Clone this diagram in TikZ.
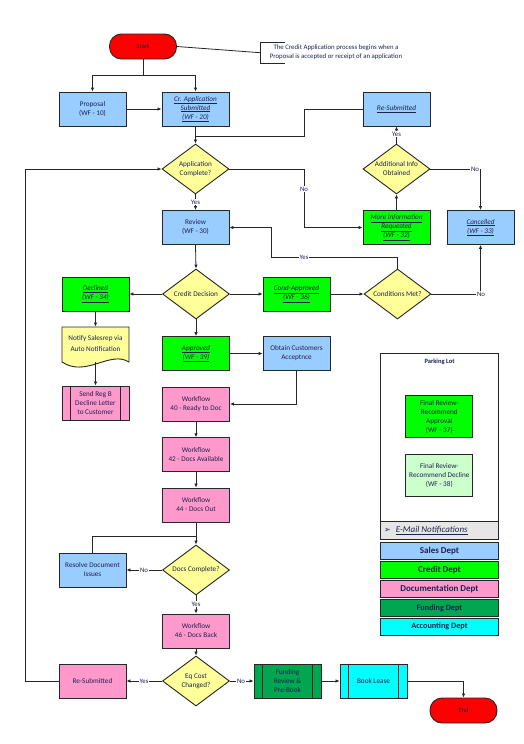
\documentclass[tikz,border=0pt]{standalone}
\usepackage{fontspec}
\setmainfont{Carlito}
\newfontfamily\symfont{DejaVu Sans}
\usetikzlibrary{shapes.geometric,arrows.meta}
\definecolor{sblue}{HTML}{99CCFF}
\definecolor{sgreen}{HTML}{00FF00}
\definecolor{spink}{HTML}{FF99CC}
\definecolor{syellow}{HTML}{FFFF99}
\definecolor{sred}{HTML}{FF0000}
\definecolor{sdgreen}{HTML}{00A650}
\definecolor{scyan}{HTML}{00FFFF}
\definecolor{slgreen}{HTML}{CCFFCC}
\definecolor{txt}{HTML}{1C2250}
\definecolor{lgray}{HTML}{E6E6E6}
\newcommand\uit[1]{\underline{\textit{#1}}}
\begin{document}
\begin{tikzpicture}[x=1pt,y=-1pt,
 base/.style={draw=black!85, line width=0.9pt, text=txt, align=center, inner sep=0pt, font=\fontsize{7.2}{9}\selectfont},
 box/.style={base, rectangle, minimum width=67pt, minimum height=34pt},
 term/.style={base, rectangle, rounded corners=12pt, minimum width=67pt, minimum height=25pt, fill=sred, font=\fontsize{6.5}{8}\selectfont},
 dec/.style={base, diamond, shape aspect=1.34, minimum width=67pt, minimum height=50pt, fill=syellow},
 proc/.style={box, path picture={\draw[line width=0.9pt, black!85] ([xshift=8.5pt]path picture bounding box.north west) -- ([xshift=8.5pt]path picture bounding box.south west) ([xshift=-8.5pt]path picture bounding box.north east) -- ([xshift=-8.5pt]path picture bounding box.south east);}},
 conn/.style={draw=black!85, line width=0.8pt},
 arr/.style={conn, -{Latex[length=4pt,width=3.5pt]}},
 lab/.style={fill=white, inner sep=0.6pt, text=txt, font=\fontsize{6.8}{8}\selectfont},
 leg/.style={draw=black!85, line width=0.9pt, rectangle, minimum width=117.6pt, minimum height=16.6pt, inner sep=0pt, font=\bfseries\fontsize{9}{10}\selectfont, text=txt},
]
\useasboundingbox (0,0) rectangle (524,744);
\fill[white] (0,0) rectangle (524,744);

% ---- nodes ----
\node[term] (start) at (143,46.5) {Start};
\node[font=\fontsize{6.8}{9}\selectfont, text=txt, align=center, inner sep=0pt] (note) at (336,52.5) {The Credit Application process begins when a\\Proposal is accepted or receipt of an application};
\coordinate (notel) at (260,52.7);
\draw[conn] (285,42) -- (260,42) -- (260,63) -- (285,63);

\node[box, fill=sblue] (proposal) at (92.5,109) {Proposal\\(WF - 10)};
\node[box, fill=sblue] (crapp) at (195.5,109) {\uit{Cr. Application}\\\uit{Submitted}\\\uit{(WF - 20)}};
\node[box, fill=sblue] (resub1) at (396.5,109) {\uit{Re-Submitted}};

\node[dec] (appc) at (195.5,169) {Application\\Complete?};
\node[dec] (addinfo) at (396.5,169) {Additional Info\\Obtained};

\node[box, fill=sblue] (review) at (195.5,227.5) {Review\\(WF - 30)};
\node[box, fill=sgreen] (moreinfo) at (396.5,227.5) {\uit{More Information}\\\uit{Requested}\\\uit{(WF - 32)}};
\node[box, fill=sblue] (cancelled) at (480.5,227.5) {\uit{Cancelled}\\\uit{(WF - 33)}};

\node[dec] (credit) at (196,294) {Credit Decision};
\node[box, fill=sgreen] (declined) at (95.5,294) {\uit{Declined}\\\uit{(WF - 34)}};
\node[box, fill=sgreen] (condapp) at (296.5,294) {\uit{Cond-Approved}\\\uit{(WF - 36)}};
\node[dec] (condmet) at (397.5,294) {Conditions Met?};

\node[box, fill=sgreen] (approved) at (196,353.5) {\uit{Approved}\\\uit{(WF - 39)}};
\node[box, fill=sblue] (obtain) at (296.5,353.5) {Obtain Customers\\Acceptnce};

\fill[syellow] (62,327) -- (129,327) -- (129,362) .. controls (110,350) and (86,378) .. (62,362) -- cycle;
\draw[draw=black!85, line width=0.9pt] (62,327) -- (129,327) -- (129,362) .. controls (110,350) and (86,378) .. (62,362) -- cycle;
\node[base, draw=none, rectangle, minimum width=67pt, minimum height=35pt] (notify) at (95.5,344.5) {\raisebox{2pt}{\shortstack{Notify Salesrep via\\[1.5pt]Auto Notification}}};

\node[proc, fill=spink] (sendreg) at (95.5,403) {Send Reg B\\Decline Letter\\to Customer};
\node[box, fill=spink] (wf40) at (196,404) {Workflow\\40 - Ready to Doc};
\node[box, fill=spink] (wf42) at (196,454.7) {Workflow\\42 - Docs Available};
\node[box, fill=spink] (wf44) at (196,505) {Workflow\\44 - Docs Out};

\node[dec] (docs) at (196,570) {Docs Complete?};
\node[box, fill=sblue] (resolve) at (92.5,570) {Resolve Document\\Issues};
\node[box, fill=spink] (wf46) at (196,631) {Workflow\\46 - Docs Back};
\node[dec] (eqcost) at (196,681) {Eq Cost\\Changed?};
\node[box, fill=spink] (resub2) at (92.5,681) {Re-Submitted};
\node[proc, fill=sdgreen] (funding) at (287.5,681) {Funding\\Review \&\\Pre-Book};
\node[proc, fill=scyan] (book) at (373.5,681) {Book Lease};
\node[term] (end) at (463.5,710.5) {End};

% ---- legend ----
\node[draw=black!85, line width=0.9pt, fill=white, rectangle, minimum width=117.6pt, minimum height=168.4pt, inner sep=0pt] (parking) at (439.5,437.5) {};
\node[text=txt, font=\bfseries\fontsize{6.5}{8}\selectfont] (parktitle) at (439.5,361.7) {Parking Lot};
\node[box, fill=sgreen, minimum height=42pt] (fr37) at (439.3,416.5) {Final Review-\\Recommend\\Approval\\(WF - 37)};
\node[box, fill=slgreen, minimum height=42pt] (fr38) at (439.3,475.5) {Final Review-\\Recommend Decline\\(WF - 38)};
\node[draw=black!85, line width=0.9pt, fill=lgray, rectangle, minimum width=117.6pt, minimum height=17.3pt, inner sep=0pt] (email) at (439.5,530.35) {};
\node[anchor=west, text=txt, inner sep=0pt, font=\fontsize{9}{10}\selectfont] (emailtxt) at (384,530.5) {{\symfont\fontsize{8}{9}\selectfont ➢}\hspace{5pt}\uit{E-Mail Notifications}};
\node[leg, fill=sblue] (lsales) at (439.5,551) {Sales Dept};
\node[leg, fill=sgreen] (lcredit) at (439.5,570) {Credit Dept};
\node[leg, fill=spink] (ldoc) at (439.5,589) {Documentation Dept};
\node[leg, fill=sdgreen, font=\bfseries\fontsize{8.2}{10}\selectfont] (lfund) at (439.5,608) {Funding Dept};
\node[leg, fill=scyan, font=\bfseries\fontsize{8.2}{10}\selectfont] (lacc) at (439.5,626.7) {Accounting Dept};

% ---- connectors ----
\draw[conn] (start.east) -- (notel);
\draw[arr] (start.south) -- ++(0,16) -| (proposal.north);
\draw[arr] (start.south) -- ++(0,16) -| (crapp.north);
\draw[arr] (proposal.east) -- (crapp.west);
\draw[arr] (crapp.south) -- (appc.north);
\coordinate (j1) at (304,136);
\draw[conn] (resub1.west) -| (j1) -- (crapp.south |- j1);
\coordinate (j2) at (304,169);
\draw[arr] (appc.east) -- (j2) |- (moreinfo.west);
\draw[arr] (appc.south) -- (review.north);
\draw[arr] (moreinfo.north) -- (addinfo.south);
\draw[arr] (addinfo.north) -- (resub1.south);
\draw[arr] (addinfo.east) -| (cancelled.north);
\draw[arr] (review.south) -- (credit.north);
\draw[arr] (credit.west) -- (declined.east);
\draw[arr] (credit.east) -- (condapp.west);
\draw[arr] (credit.south) -- (approved.north);
\draw[arr] (condapp.east) -- (condmet.west);
\coordinate (j3) at (271,257);
\draw[arr] (condmet.north) |- (j3) |- (review.east);
\draw[arr] (condmet.east) -| (cancelled.south);
\draw[arr] (declined.south) -- (notify.north);
\draw[arr] (notify.south) -- (sendreg.north);
\draw[arr] (approved.east) -- (obtain.west);
\draw[arr] (obtain.south) |- (wf40.east);
\draw[arr] (wf40.south) -- (wf42.north);
\draw[arr] (wf42.south) -- (wf44.north);
\draw[arr] (wf44.south) -- (docs.north);
\coordinate (j4) at (196,536.7);
\draw[conn] (resolve.north) |- (j4);
\draw[arr] (docs.west) -- (resolve.east);
\draw[arr] (docs.south) -- (wf46.north);
\draw[arr] (wf46.south) -- (eqcost.north);
\draw[arr] (eqcost.west) -- (resub2.east);
\draw[arr] (eqcost.east) -- (funding.west);
\draw[arr] (funding.east) -- (book.west);
\draw[arr] (book.east) -| (end.north);
\coordinate (j5) at (25.7,169);
\draw[arr] (resub2.west) -| (j5) -- (appc.west);

% ---- labels ----
\node[lab] (l1) at (304,189) {No};
\node[lab] (l2) at (195.5,202) {Yes};
\node[lab] (l3) at (396.5,134) {Yes};
\node[lab] (l4) at (475,169) {No};
\node[lab] (l5) at (304,257) {Yes};
\node[lab] (l6) at (481,294) {No};
\node[lab] (l7) at (144,570) {No};
\node[lab] (l8) at (196,604) {Yes};
\node[lab] (l9) at (144,681) {Yes};
\node[lab] (l10) at (241,681) {No};
\end{tikzpicture}
\end{document}
